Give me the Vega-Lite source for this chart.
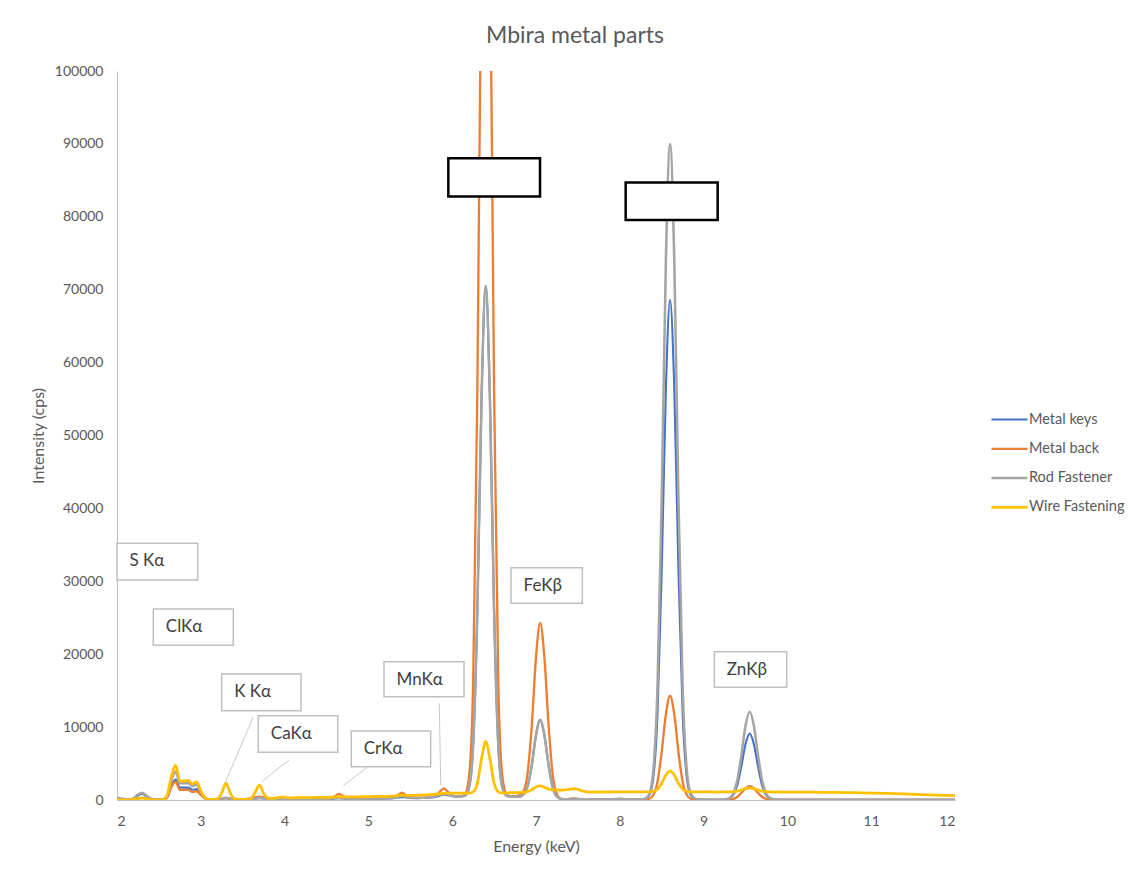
{
  "$schema": "https://vega.github.io/schema/vega-lite/v6.json",
  "width": 838,
  "height": 729,
  "autosize": {"type": "none"},
  "padding": {"left": 117, "top": 71, "right": 179, "bottom": 72},
  "background": "white",
  "title": {"text": "Mbira metal parts", "font": "Lato", "fontSize": 23, "fontWeight": "normal", "color": "#595959", "offset": 16, "dx": 39},
  "config": {
    "view": {"stroke": null},
    "font": "Lato",
    "axis": {"grid": false, "ticks": false, "domainColor": "#BFBFBF", "domainWidth": 1, "labelFont": "Lato", "labelFontSize": 14, "labelColor": "#595959", "titleFont": "Lato", "titleFontSize": 16, "titleColor": "#595959", "titleFontWeight": "normal"}
  },
  "datasets": {
    "spectra": [
      {"e":2.00,"Metal keys":150,"Metal back":100,"Rod Fastener":300,"Wire Fastening":50},
      {"e":2.05,"Metal keys":100,"Metal back":60,"Rod Fastener":200,"Wire Fastening":30},
      {"e":2.10,"Metal keys":60,"Metal back":40,"Rod Fastener":100,"Wire Fastening":20},
      {"e":2.15,"Metal keys":50,"Metal back":30,"Rod Fastener":80,"Wire Fastening":20},
      {"e":2.20,"Metal keys":150,"Metal back":60,"Rod Fastener":250,"Wire Fastening":80},
      {"e":2.25,"Metal keys":600,"Metal back":200,"Rod Fastener":750,"Wire Fastening":200},
      {"e":2.30,"Metal keys":850,"Metal back":300,"Rod Fastener":1000,"Wire Fastening":280},
      {"e":2.35,"Metal keys":500,"Metal back":200,"Rod Fastener":600,"Wire Fastening":180},
      {"e":2.40,"Metal keys":150,"Metal back":60,"Rod Fastener":200,"Wire Fastening":60},
      {"e":2.45,"Metal keys":60,"Metal back":30,"Rod Fastener":80,"Wire Fastening":30},
      {"e":2.50,"Metal keys":50,"Metal back":30,"Rod Fastener":60,"Wire Fastening":30},
      {"e":2.55,"Metal keys":80,"Metal back":50,"Rod Fastener":100,"Wire Fastening":60},
      {"e":2.60,"Metal keys":400,"Metal back":350,"Rod Fastener":500,"Wire Fastening":700},
      {"e":2.65,"Metal keys":2000,"Metal back":1800,"Rod Fastener":2700,"Wire Fastening":3300},
      {"e":2.70,"Metal keys":2800,"Metal back":2500,"Rod Fastener":3900,"Wire Fastening":4800},
      {"e":2.75,"Metal keys":1700,"Metal back":1400,"Rod Fastener":2300,"Wire Fastening":2600},
      {"e":2.80,"Metal keys":1700,"Metal back":1400,"Rod Fastener":2300,"Wire Fastening":2600},
      {"e":2.85,"Metal keys":1700,"Metal back":1400,"Rod Fastener":2300,"Wire Fastening":2700},
      {"e":2.90,"Metal keys":1400,"Metal back":1100,"Rod Fastener":1900,"Wire Fastening":2200},
      {"e":2.95,"Metal keys":1500,"Metal back":1200,"Rod Fastener":2100,"Wire Fastening":2500},
      {"e":3.00,"Metal keys":800,"Metal back":700,"Rod Fastener":1100,"Wire Fastening":1300},
      {"e":3.05,"Metal keys":250,"Metal back":200,"Rod Fastener":300,"Wire Fastening":350},
      {"e":3.10,"Metal keys":60,"Metal back":50,"Rod Fastener":80,"Wire Fastening":80},
      {"e":3.15,"Metal keys":60,"Metal back":50,"Rod Fastener":80,"Wire Fastening":60},
      {"e":3.20,"Metal keys":100,"Metal back":80,"Rod Fastener":120,"Wire Fastening":150},
      {"e":3.25,"Metal keys":200,"Metal back":150,"Rod Fastener":220,"Wire Fastening":1000},
      {"e":3.30,"Metal keys":250,"Metal back":250,"Rod Fastener":300,"Wire Fastening":2300},
      {"e":3.35,"Metal keys":200,"Metal back":150,"Rod Fastener":220,"Wire Fastening":1000},
      {"e":3.40,"Metal keys":100,"Metal back":100,"Rod Fastener":120,"Wire Fastening":150},
      {"e":3.45,"Metal keys":80,"Metal back":80,"Rod Fastener":100,"Wire Fastening":80},
      {"e":3.50,"Metal keys":80,"Metal back":100,"Rod Fastener":100,"Wire Fastening":80},
      {"e":3.55,"Metal keys":100,"Metal back":150,"Rod Fastener":120,"Wire Fastening":100},
      {"e":3.60,"Metal keys":150,"Metal back":250,"Rod Fastener":150,"Wire Fastening":200},
      {"e":3.65,"Metal keys":200,"Metal back":380,"Rod Fastener":220,"Wire Fastening":1100},
      {"e":3.70,"Metal keys":250,"Metal back":450,"Rod Fastener":300,"Wire Fastening":2050},
      {"e":3.75,"Metal keys":200,"Metal back":380,"Rod Fastener":250,"Wire Fastening":900},
      {"e":3.80,"Metal keys":150,"Metal back":250,"Rod Fastener":180,"Wire Fastening":250},
      {"e":3.85,"Metal keys":120,"Metal back":200,"Rod Fastener":150,"Wire Fastening":220},
      {"e":3.90,"Metal keys":120,"Metal back":180,"Rod Fastener":150,"Wire Fastening":300},
      {"e":3.95,"Metal keys":130,"Metal back":200,"Rod Fastener":160,"Wire Fastening":380},
      {"e":4.00,"Metal keys":130,"Metal back":200,"Rod Fastener":160,"Wire Fastening":380},
      {"e":4.05,"Metal keys":120,"Metal back":180,"Rod Fastener":150,"Wire Fastening":300},
      {"e":4.10,"Metal keys":100,"Metal back":150,"Rod Fastener":130,"Wire Fastening":300},
      {"e":4.15,"Metal keys":100,"Metal back":150,"Rod Fastener":130,"Wire Fastening":320},
      {"e":4.20,"Metal keys":100,"Metal back":150,"Rod Fastener":130,"Wire Fastening":320},
      {"e":4.25,"Metal keys":100,"Metal back":150,"Rod Fastener":130,"Wire Fastening":330},
      {"e":4.30,"Metal keys":100,"Metal back":150,"Rod Fastener":130,"Wire Fastening":330},
      {"e":4.35,"Metal keys":110,"Metal back":160,"Rod Fastener":140,"Wire Fastening":340},
      {"e":4.40,"Metal keys":110,"Metal back":170,"Rod Fastener":140,"Wire Fastening":350},
      {"e":4.45,"Metal keys":120,"Metal back":180,"Rod Fastener":150,"Wire Fastening":360},
      {"e":4.50,"Metal keys":130,"Metal back":200,"Rod Fastener":160,"Wire Fastening":360},
      {"e":4.55,"Metal keys":150,"Metal back":280,"Rod Fastener":180,"Wire Fastening":380},
      {"e":4.60,"Metal keys":200,"Metal back":500,"Rod Fastener":250,"Wire Fastening":400},
      {"e":4.65,"Metal keys":250,"Metal back":850,"Rod Fastener":350,"Wire Fastening":430},
      {"e":4.70,"Metal keys":200,"Metal back":500,"Rod Fastener":250,"Wire Fastening":420},
      {"e":4.75,"Metal keys":150,"Metal back":280,"Rod Fastener":180,"Wire Fastening":420},
      {"e":4.80,"Metal keys":150,"Metal back":220,"Rod Fastener":170,"Wire Fastening":430},
      {"e":4.85,"Metal keys":150,"Metal back":200,"Rod Fastener":170,"Wire Fastening":440},
      {"e":4.90,"Metal keys":160,"Metal back":200,"Rod Fastener":180,"Wire Fastening":450},
      {"e":4.95,"Metal keys":160,"Metal back":210,"Rod Fastener":180,"Wire Fastening":460},
      {"e":5.00,"Metal keys":170,"Metal back":220,"Rod Fastener":190,"Wire Fastening":470},
      {"e":5.05,"Metal keys":170,"Metal back":220,"Rod Fastener":200,"Wire Fastening":480},
      {"e":5.10,"Metal keys":180,"Metal back":230,"Rod Fastener":210,"Wire Fastening":490},
      {"e":5.15,"Metal keys":190,"Metal back":240,"Rod Fastener":220,"Wire Fastening":500},
      {"e":5.20,"Metal keys":200,"Metal back":250,"Rod Fastener":230,"Wire Fastening":510},
      {"e":5.25,"Metal keys":220,"Metal back":280,"Rod Fastener":250,"Wire Fastening":520},
      {"e":5.30,"Metal keys":260,"Metal back":380,"Rod Fastener":320,"Wire Fastening":540},
      {"e":5.35,"Metal keys":350,"Metal back":650,"Rod Fastener":450,"Wire Fastening":600},
      {"e":5.40,"Metal keys":400,"Metal back":1000,"Rod Fastener":600,"Wire Fastening":650},
      {"e":5.45,"Metal keys":350,"Metal back":650,"Rod Fastener":450,"Wire Fastening":620},
      {"e":5.50,"Metal keys":280,"Metal back":380,"Rod Fastener":330,"Wire Fastening":620},
      {"e":5.55,"Metal keys":260,"Metal back":300,"Rod Fastener":300,"Wire Fastening":640},
      {"e":5.60,"Metal keys":260,"Metal back":290,"Rod Fastener":300,"Wire Fastening":660},
      {"e":5.65,"Metal keys":280,"Metal back":300,"Rod Fastener":320,"Wire Fastening":680},
      {"e":5.70,"Metal keys":300,"Metal back":320,"Rod Fastener":350,"Wire Fastening":720},
      {"e":5.75,"Metal keys":340,"Metal back":400,"Rod Fastener":400,"Wire Fastening":760},
      {"e":5.80,"Metal keys":420,"Metal back":600,"Rod Fastener":500,"Wire Fastening":800},
      {"e":5.85,"Metal keys":600,"Metal back":1100,"Rod Fastener":700,"Wire Fastening":850},
      {"e":5.90,"Metal keys":750,"Metal back":1600,"Rod Fastener":900,"Wire Fastening":900},
      {"e":5.95,"Metal keys":650,"Metal back":1100,"Rod Fastener":750,"Wire Fastening":920},
      {"e":6.00,"Metal keys":550,"Metal back":600,"Rod Fastener":550,"Wire Fastening":930},
      {"e":6.05,"Metal keys":480,"Metal back":500,"Rod Fastener":480,"Wire Fastening":930},
      {"e":6.10,"Metal keys":480,"Metal back":500,"Rod Fastener":480,"Wire Fastening":940},
      {"e":6.15,"Metal keys":570,"Metal back":760,"Rod Fastener":570,"Wire Fastening":950},
      {"e":6.20,"Metal keys":1640,"Metal back":3100,"Rod Fastener":1640,"Wire Fastening":960},
      {"e":6.25,"Metal keys":7550,"Metal back":16010,"Rod Fastener":7550,"Wire Fastening":1120},
      {"e":6.30,"Metal keys":25870,"Metal back":56030,"Rod Fastener":25870,"Wire Fastening":2310},
      {"e":6.35,"Metal keys":55090,"Metal back":119850,"Rod Fastener":55090,"Wire Fastening":5650},
      {"e":6.40,"Metal keys":70500,"Metal back":154500,"Rod Fastener":70500,"Wire Fastening":8050},
      {"e":6.45,"Metal keys":55090,"Metal back":119850,"Rod Fastener":55090,"Wire Fastening":5650},
      {"e":6.50,"Metal keys":25870,"Metal back":56030,"Rod Fastener":25870,"Wire Fastening":2310},
      {"e":6.55,"Metal keys":7550,"Metal back":16010,"Rod Fastener":7550,"Wire Fastening":1120},
      {"e":6.60,"Metal keys":1640,"Metal back":3100,"Rod Fastener":1640,"Wire Fastening":960},
      {"e":6.65,"Metal keys":570,"Metal back":760,"Rod Fastener":570,"Wire Fastening":980},
      {"e":6.70,"Metal keys":460,"Metal back":500,"Rod Fastener":460,"Wire Fastening":1000},
      {"e":6.75,"Metal keys":450,"Metal back":520,"Rod Fastener":450,"Wire Fastening":1020},
      {"e":6.80,"Metal keys":460,"Metal back":650,"Rod Fastener":460,"Wire Fastening":1030},
      {"e":6.85,"Metal keys":750,"Metal back":1180,"Rod Fastener":750,"Wire Fastening":1050},
      {"e":6.90,"Metal keys":1880,"Metal back":3720,"Rod Fastener":1880,"Wire Fastening":1150},
      {"e":6.95,"Metal keys":4790,"Metal back":10280,"Rod Fastener":4790,"Wire Fastening":1400},
      {"e":7.00,"Metal keys":8900,"Metal back":19560,"Rod Fastener":8900,"Wire Fastening":1800},
      {"e":7.05,"Metal keys":11000,"Metal back":24300,"Rod Fastener":11000,"Wire Fastening":1950},
      {"e":7.10,"Metal keys":8900,"Metal back":19560,"Rod Fastener":8900,"Wire Fastening":1750},
      {"e":7.15,"Metal keys":4790,"Metal back":10280,"Rod Fastener":4790,"Wire Fastening":1500},
      {"e":7.20,"Metal keys":1700,"Metal back":3400,"Rod Fastener":1700,"Wire Fastening":1400},
      {"e":7.25,"Metal keys":450,"Metal back":800,"Rod Fastener":450,"Wire Fastening":1380},
      {"e":7.30,"Metal keys":150,"Metal back":150,"Rod Fastener":150,"Wire Fastening":1350},
      {"e":7.35,"Metal keys":90,"Metal back":80,"Rod Fastener":100,"Wire Fastening":1380},
      {"e":7.40,"Metal keys":60,"Metal back":150,"Rod Fastener":120,"Wire Fastening":1450},
      {"e":7.45,"Metal keys":60,"Metal back":220,"Rod Fastener":150,"Wire Fastening":1550},
      {"e":7.50,"Metal keys":50,"Metal back":150,"Rod Fastener":120,"Wire Fastening":1450},
      {"e":7.55,"Metal keys":50,"Metal back":60,"Rod Fastener":90,"Wire Fastening":1250},
      {"e":7.60,"Metal keys":50,"Metal back":40,"Rod Fastener":80,"Wire Fastening":1120},
      {"e":7.65,"Metal keys":50,"Metal back":40,"Rod Fastener":80,"Wire Fastening":1080},
      {"e":7.70,"Metal keys":50,"Metal back":40,"Rod Fastener":80,"Wire Fastening":1100},
      {"e":7.75,"Metal keys":50,"Metal back":40,"Rod Fastener":80,"Wire Fastening":1080},
      {"e":7.80,"Metal keys":50,"Metal back":40,"Rod Fastener":80,"Wire Fastening":1100},
      {"e":7.85,"Metal keys":50,"Metal back":40,"Rod Fastener":80,"Wire Fastening":1090},
      {"e":7.90,"Metal keys":60,"Metal back":40,"Rod Fastener":90,"Wire Fastening":1100},
      {"e":7.95,"Metal keys":100,"Metal back":50,"Rod Fastener":130,"Wire Fastening":1120},
      {"e":8.00,"Metal keys":150,"Metal back":60,"Rod Fastener":180,"Wire Fastening":1110},
      {"e":8.05,"Metal keys":100,"Metal back":50,"Rod Fastener":130,"Wire Fastening":1100},
      {"e":8.10,"Metal keys":60,"Metal back":40,"Rod Fastener":80,"Wire Fastening":1120},
      {"e":8.15,"Metal keys":60,"Metal back":40,"Rod Fastener":90,"Wire Fastening":1100},
      {"e":8.20,"Metal keys":60,"Metal back":40,"Rod Fastener":90,"Wire Fastening":1110},
      {"e":8.25,"Metal keys":60,"Metal back":45,"Rod Fastener":90,"Wire Fastening":1100},
      {"e":8.30,"Metal keys":120,"Metal back":63,"Rod Fastener":170,"Wire Fastening":1100},
      {"e":8.35,"Metal keys":580,"Metal back":160,"Rod Fastener":770,"Wire Fastening":1110},
      {"e":8.40,"Metal keys":3070,"Metal back":680,"Rod Fastener":4040,"Wire Fastening":1180},
      {"e":8.45,"Metal keys":11880,"Metal back":2510,"Rod Fastener":15590,"Wire Fastening":1490},
      {"e":8.50,"Metal keys":31440,"Metal back":6570,"Rod Fastener":41250,"Wire Fastening":2290},
      {"e":8.55,"Metal keys":56450,"Metal back":11770,"Rod Fastener":74040,"Wire Fastening":3420},
      {"e":8.60,"Metal keys":68610,"Metal back":14300,"Rod Fastener":90000,"Wire Fastening":4000},
      {"e":8.65,"Metal keys":56450,"Metal back":11770,"Rod Fastener":74040,"Wire Fastening":3420},
      {"e":8.70,"Metal keys":31440,"Metal back":6570,"Rod Fastener":41250,"Wire Fastening":2290},
      {"e":8.75,"Metal keys":11880,"Metal back":2510,"Rod Fastener":15590,"Wire Fastening":1490},
      {"e":8.80,"Metal keys":3070,"Metal back":680,"Rod Fastener":4040,"Wire Fastening":1180},
      {"e":8.85,"Metal keys":580,"Metal back":160,"Rod Fastener":770,"Wire Fastening":1110},
      {"e":8.90,"Metal keys":120,"Metal back":63,"Rod Fastener":170,"Wire Fastening":1100},
      {"e":8.95,"Metal keys":50,"Metal back":25,"Rod Fastener":70,"Wire Fastening":1110},
      {"e":9.00,"Metal keys":40,"Metal back":20,"Rod Fastener":60,"Wire Fastening":1100},
      {"e":9.05,"Metal keys":40,"Metal back":20,"Rod Fastener":60,"Wire Fastening":1110},
      {"e":9.10,"Metal keys":40,"Metal back":20,"Rod Fastener":60,"Wire Fastening":1100},
      {"e":9.15,"Metal keys":40,"Metal back":20,"Rod Fastener":60,"Wire Fastening":1090},
      {"e":9.20,"Metal keys":40,"Metal back":20,"Rod Fastener":60,"Wire Fastening":1100},
      {"e":9.25,"Metal keys":58,"Metal back":20,"Rod Fastener":75,"Wire Fastening":1100},
      {"e":9.30,"Metal keys":160,"Metal back":45,"Rod Fastener":210,"Wire Fastening":1110},
      {"e":9.35,"Metal keys":610,"Metal back":138,"Rod Fastener":810,"Wire Fastening":1140},
      {"e":9.40,"Metal keys":1950,"Metal back":416,"Rod Fastener":2590,"Wire Fastening":1220},
      {"e":9.45,"Metal keys":4575,"Metal back":961,"Rod Fastener":6080,"Wire Fastening":1380},
      {"e":9.50,"Metal keys":7660,"Metal back":1600,"Rod Fastener":10180,"Wire Fastening":1550},
      {"e":9.55,"Metal keys":9100,"Metal back":1900,"Rod Fastener":12100,"Wire Fastening":1620},
      {"e":9.60,"Metal keys":7660,"Metal back":1600,"Rod Fastener":10180,"Wire Fastening":1550},
      {"e":9.65,"Metal keys":4575,"Metal back":961,"Rod Fastener":6080,"Wire Fastening":1380},
      {"e":9.70,"Metal keys":1950,"Metal back":416,"Rod Fastener":2590,"Wire Fastening":1220},
      {"e":9.75,"Metal keys":610,"Metal back":138,"Rod Fastener":810,"Wire Fastening":1140},
      {"e":9.80,"Metal keys":160,"Metal back":45,"Rod Fastener":210,"Wire Fastening":1110},
      {"e":9.85,"Metal keys":58,"Metal back":20,"Rod Fastener":75,"Wire Fastening":1090},
      {"e":9.90,"Metal keys":30,"Metal back":10,"Rod Fastener":50,"Wire Fastening":1100},
      {"e":9.95,"Metal keys":20,"Metal back":10,"Rod Fastener":40,"Wire Fastening":1080},
      {"e":10.00,"Metal keys":20,"Metal back":10,"Rod Fastener":40,"Wire Fastening":1090},
      {"e":10.20,"Metal keys":20,"Metal back":10,"Rod Fastener":40,"Wire Fastening":1070},
      {"e":10.40,"Metal keys":20,"Metal back":10,"Rod Fastener":40,"Wire Fastening":1060},
      {"e":10.60,"Metal keys":20,"Metal back":10,"Rod Fastener":40,"Wire Fastening":1030},
      {"e":10.80,"Metal keys":20,"Metal back":10,"Rod Fastener":40,"Wire Fastening":1000},
      {"e":11.00,"Metal keys":20,"Metal back":10,"Rod Fastener":40,"Wire Fastening":960},
      {"e":11.20,"Metal keys":20,"Metal back":10,"Rod Fastener":40,"Wire Fastening":900},
      {"e":11.40,"Metal keys":20,"Metal back":10,"Rod Fastener":40,"Wire Fastening":830},
      {"e":11.60,"Metal keys":20,"Metal back":10,"Rod Fastener":40,"Wire Fastening":750},
      {"e":11.80,"Metal keys":20,"Metal back":10,"Rod Fastener":40,"Wire Fastening":670},
      {"e":12.00,"Metal keys":20,"Metal back":10,"Rod Fastener":40,"Wire Fastening":590}
    ],
    "labels": [
      {"label":"S Kα","e1":2.0,"e2":2.963,"i1":30180,"i2":35220},
      {"label":"ClKα","e1":2.433,"e2":3.388,"i1":21225,"i2":26205},
      {"label":"K Kα","e1":3.249,"e2":4.196,"i1":12252,"i2":17287},
      {"label":"CaKα","e1":3.686,"e2":4.634,"i1":6544,"i2":11566},
      {"label":"CrKα","e1":4.796,"e2":5.743,"i1":4569,"i2":9467},
      {"label":"MnKα","e1":5.186,"e2":6.141,"i1":14173,"i2":18975},
      {"label":"FeKβ","e1":6.702,"e2":7.553,"i1":26987,"i2":31872},
      {"label":"ZnKβ","e1":9.128,"e2":9.992,"i1":15462,"i2":20347}
    ],
    "blanks": [
      {"e1":5.954,"e2":7.048,"i1":82773,"i2":88041},
      {"e1":8.070,"e2":9.168,"i1":79576,"i2":84694}
    ],
    "leaders": [
      {"e1":3.627,"i1":11430,"e2":3.289,"i2":2330},
      {"e1":4.053,"i1":5488,"e2":3.727,"i2":2511},
      {"e1":5.031,"i1":4898,"e2":4.700,"i2":1962},
      {"e1":5.846,"i1":13267,"e2":5.863,"i2":2058}
    ]
  },
  "layer": [
    {
      "data": {"name": "spectra"},
      "transform": [{"fold": ["Metal keys", "Metal back", "Rod Fastener", "Wire Fastening"], "as": ["series", "value"]}],
      "mark": {"type": "line", "interpolate": "monotone", "clip": true},
      "encoding": {
        "x": {"field": "e", "type": "quantitative", "scale": {"domain": [2, 12], "nice": false, "zero": false},
              "axis": {"title": "Energy (keV)", "values": [2,3,4,5,6,7,8,9,10,11,12], "format": "d", "labelPadding": 14, "titlePadding": 10}},
        "y": {"field": "value", "type": "quantitative", "scale": {"domain": [0, 100000], "nice": false},
              "axis": {"title": "Intensity (cps)", "values": [0,10000,20000,30000,40000,50000,60000,70000,80000,90000,100000], "format": "d", "labelPadding": 14, "titlePadding": 8}},
        "color": {"field": "series", "type": "nominal",
                  "scale": {"domain": ["Metal keys", "Metal back", "Rod Fastener", "Wire Fastening"], "range": ["#4472C4", "#ED7D31", "#A5A5A5", "#FFC000"]},
                  "legend": {"title": null, "orient": "none", "legendX": 873, "legendY": 329, "symbolType": "stroke", "symbolSize": 1296, "symbolStrokeWidth": 2.75, "labelFont": "Lato", "labelFontSize": 14.5, "labelColor": "#595959", "labelOffset": 0, "rowPadding": 3.3}},
        "strokeWidth": {"field": "series", "type": "nominal",
                  "scale": {"domain": ["Metal keys", "Metal back", "Rod Fastener", "Wire Fastening"], "range": [2.1, 2.75, 2.75, 2.75]},
                  "legend": null}
      }
    },
    {
      "data": {"name": "leaders"},
      "mark": {"type": "rule", "color": "#C8C8C8", "strokeWidth": 1},
      "encoding": {
        "x": {"field": "e1", "type": "quantitative"},
        "y": {"field": "i1", "type": "quantitative"},
        "x2": {"field": "e2"},
        "y2": {"field": "i2"}
      }
    },
    {
      "data": {"name": "labels"},
      "mark": {"type": "rect", "fill": "white", "stroke": "#BFBFBF", "strokeWidth": 1.5},
      "encoding": {
        "x": {"field": "e1", "type": "quantitative"},
        "x2": {"field": "e2"},
        "y": {"field": "i1", "type": "quantitative"},
        "y2": {"field": "i2"}
      }
    },
    {
      "data": {"name": "labels"},
      "mark": {"type": "text", "align": "left", "baseline": "middle", "dx": 12.5, "dy": 18, "font": "Lato", "fontSize": 17, "color": "#404040"},
      "encoding": {
        "x": {"field": "e1", "type": "quantitative"},
        "y": {"field": "i2", "type": "quantitative"},
        "text": {"field": "label"}
      }
    },
    {
      "data": {"name": "blanks"},
      "mark": {"type": "rect", "fill": "white", "stroke": "black", "strokeWidth": 2.5},
      "encoding": {
        "x": {"field": "e1", "type": "quantitative"},
        "x2": {"field": "e2"},
        "y": {"field": "i1", "type": "quantitative"},
        "y2": {"field": "i2"}
      }
    }
  ]
}
